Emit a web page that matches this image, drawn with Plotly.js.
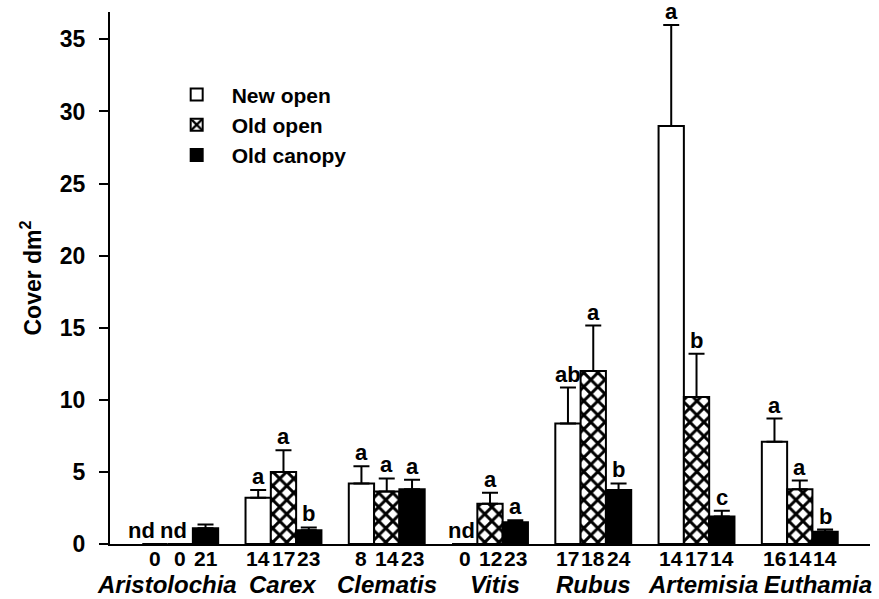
<!DOCTYPE html>
<html>
<head>
<meta charset="utf-8">
<script src="https://cdn.plot.ly/plotly-3.0.1.min.js"></script>
<style>html,body{margin:0;padding:0;background:#fff;}#chart{width:879px;height:599px;}</style>
</head>
<body>
<div id="chart"></div>
<script>
const categories = ['Aristolochia','Carex','Clematis','Vitis','Rubus','Artemisia','Euthamia'];
const seriesNames = ['New open','Old open','Old canopy'];

const newOpen      = [0,    3.2,  4.2,  0,    8.35, 29.0, 7.1];
const newOpenErr   = [0,    0.55, 1.2,  0,    2.5,  7.0,  1.6];
const oldOpen      = [0,    5.0,  3.65, 2.8,  12.0, 10.2, 3.8];
const oldOpenErr   = [0,    1.5,  0.9,  0.75, 3.15, 3.0,  0.6];
const oldCanopy    = [1.1,  0.95, 3.8,  1.5,  3.75, 1.9,  0.85];
const oldCanopyErr = [0.25, 0.2,  0.65, 0.15, 0.45, 0.4,  0.15];

const newOpenLetters   = ['nd','a','a','nd','ab','a','a'];
const oldOpenLetters   = ['nd','a','a','a','a','b','a'];
const oldCanopyLetters = ['','b','a','a','b','c','b'];

const newOpenN   = ['0','14','8','0','17','14','16'];
const oldOpenN   = ['0','17','14','12','18','17','14'];
const oldCanopyN = ['21','23','23','23','24','14','14'];

const yTickVals = [0,5,10,15,20,25,30,35];

const FONT = 'Arial, "Liberation Sans", Helvetica, sans-serif';
const bargap = 0.265;
const barW = (1 - bargap) / 3;

// pixel nudges for the species labels (as placed in the original figure)
const nameShift = [-13, 0, 0, 5, 0, 6, 18];

const values = [newOpen, oldOpen, oldCanopy];
const errs = [newOpenErr, oldOpenErr, oldCanopyErr];
const letters = [newOpenLetters, oldOpenLetters, oldCanopyLetters];
const counts = [newOpenN, oldOpenN, oldCanopyN];

const styles = [
  {color:'#ffffff', line:{color:'#000', width:2}},
  {color:'#ffffff', line:{color:'#000', width:2}, pattern:{shape:'x', fgcolor:'#000', fgopacity:1, bgcolor:'#fff', size:10, solidity:0.5, fillmode:'overlay'}},
  {color:'#000000', line:{color:'#000', width:2}}
];

const traces = seriesNames.map((name, j) => ({
  type:'bar',
  name: name,
  x: categories,
  y: values[j],
  marker: styles[j],
  error_y: {type:'data', symmetric:false, array: errs[j], arrayminus: errs[j].map(()=>0), color:'#000', thickness:2, width:8},
  hoverinfo:'skip'
}));

const annotations = [];
categories.forEach((c, i) => {
  for (let j = 0; j < 3; j++) {
    const xpos = i + (j - 1) * barW;
    const lab = letters[j][i];
    if (lab) {
      const isND = lab === 'nd';
      let xs = 0;
      if (isND) xs = (i === 0) ? (j === 0 ? -13 : -7) : -3;
      annotations.push({
        xref:'x', yref:'y', x: xpos, y: isND ? 0 : values[j][i] + errs[j][i],
        text: '<b>' + lab + '</b>', showarrow:false, yanchor:'bottom', borderpad:0,
        xshift: xs, yshift: 0,
        font:{family:FONT, size:22, color:'#000'}
      });
    }
    annotations.push({
      xref:'x', yref:'paper', x: xpos, y: 0, yanchor:'top',
      text: '<b>' + counts[j][i] + '</b>', showarrow:false, yshift:-1,
      font:{family:FONT, size:21, color:'#000'}
    });
  }
  annotations.push({
    xref:'x', yref:'paper', x: i, y: 0, yanchor:'top',
    text: '<b><i>' + c + '</i></b>', showarrow:false, yshift:-25, xshift: nameShift[i],
    font:{family:FONT, size:24, color:'#000'}
  });
});

const layout = {
  width:879, height:599,
  margin:{l:110, r:9, t:12, b:54.5},
  paper_bgcolor:'#fff', plot_bgcolor:'#fff',
  barmode:'group', bargap: bargap, bargroupgap: 0,
  showlegend:true,
  legend:{x:0.068, y:0.883, xanchor:'left', yanchor:'top', bgcolor:'rgba(0,0,0,0)',
          font:{family:FONT, size:21, color:'#000', weight:'bold'}, itemwidth:60, tracegroupgap:0},
  xaxis:{type:'category', range:[-0.68, 6.68], showticklabels:false, ticks:'',
         showline:true, linecolor:'#000', linewidth:2, showgrid:false, zeroline:false, fixedrange:true},
  yaxis:{range:[0, 36.9], tickvals: yTickVals, ticks:'outside', ticklen:9, tickwidth:2, tickcolor:'#000',
         ticklabelstandoff:9,
         showline:true, linecolor:'#000', linewidth:2, showgrid:false, zeroline:false,
         tickfont:{family:FONT, size:23, color:'#000', weight:'bold'},
         title:{text:'<b>Cover dm<sup>2</sup></b>', font:{family:FONT, size:23, color:'#000'}, standoff:12}},
  annotations: annotations,
  font:{family:FONT, color:'#000'}
};

Plotly.newPlot('chart', traces, layout, {displayModeBar:false, staticPlot:true});
</script>
</body>
</html>
